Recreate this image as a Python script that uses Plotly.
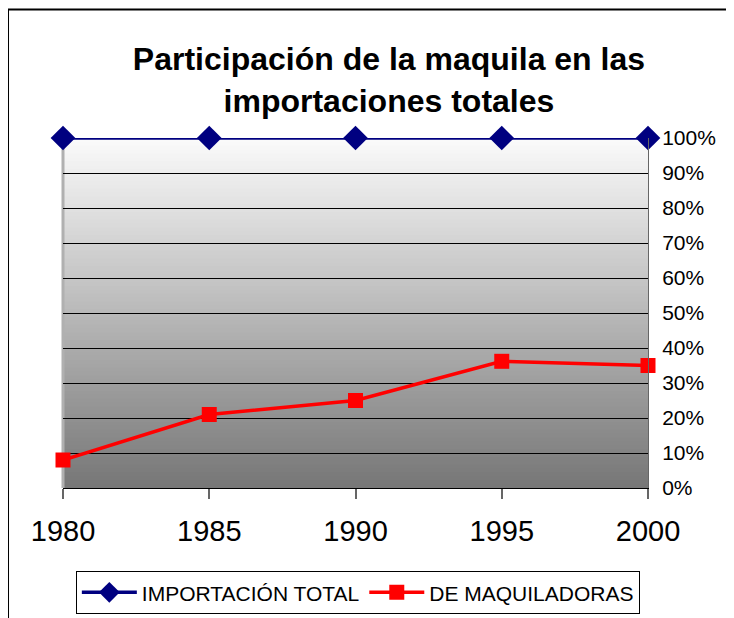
import plotly.graph_objects as go

anios = [1980, 1985, 1990, 1995, 2000]
importacion_total = [1.00, 1.00, 1.00, 1.00, 1.00]
de_maquiladoras = [0.08, 0.21, 0.25, 0.362, 0.35]

FONT = "Liberation Sans, Arial, sans-serif"

fig = go.Figure()
fig.add_trace(go.Scatter(
    x=anios, y=importacion_total, mode="lines+markers", name="IMPORTACIÓN TOTAL",
    line=dict(color="#000080", width=3.5), marker=dict(symbol="diamond", size=19, color="#000080"),
    cliponaxis=False,
))
fig.add_trace(go.Scatter(
    x=anios, y=de_maquiladoras, mode="lines+markers", name="DE MAQUILADORAS",
    line=dict(color="#FF0000", width=3.5), marker=dict(symbol="square", size=15, color="#FF0000"),
    cliponaxis=False,
))

# fondo degradado (blanco arriba, gris abajo); franjas solapadas para evitar costuras
n = 90
for i in range(n):
    t = (i + 0.5) / n
    g = int(round(251 - (251 - 118) * t))
    fig.add_shape(type="rect", xref="x domain", yref="y domain",
                  x0=0, x1=1, y0=max(0, 1 - (i + 1) / n - 0.006), y1=1 - i / n,
                  fillcolor=f"rgb({g},{g},{g})", line=dict(width=0), layer="below")

# borde izquierdo gris del área de trazado
fig.add_shape(type="line", xref="x domain", yref="y domain", x0=0, x1=0, y0=0, y1=1,
              line=dict(color="#b0b0b0", width=3), layer="below")

# marco exterior
fig.add_shape(type="rect", xref="paper", yref="paper", x0=-0.094, x1=1.3, y0=-0.6, y1=1.3675,
              line=dict(color="black", width=2))

fig.update_layout(
    width=734, height=618,
    margin=dict(l=55, r=94, t=130, b=130),
    paper_bgcolor="white", plot_bgcolor="white",
    font=dict(family=FONT, color="black"),
    title=dict(text="<b>Participación de la maquila en las<br>importaciones totales</b>",
               font=dict(size=32, family=FONT), x=0.519, xanchor="center", y=0.899, yanchor="middle"),
    xaxis=dict(range=[1980, 2000], tickvals=anios, showgrid=False, zeroline=False,
               showline=True, linecolor="black", linewidth=1,
               ticks="outside", ticklen=10, tickcolor="#666", tickwidth=2,
               tickfont=dict(size=29, family=FONT), ticklabelstandoff=7),
    yaxis=dict(range=[0, 1.0], side="right", tickformat=".0%", dtick=0.1,
               showgrid=True, gridcolor="black", gridwidth=1, zeroline=False,
               showline=True, linecolor="#666", linewidth=1,
               tickfont=dict(size=21, family=FONT), ticks="", ticklabelstandoff=9),
    showlegend=True,
    legend=dict(orientation="h", x=0.504, xanchor="center", y=-0.299, yanchor="middle",
                bordercolor="black", borderwidth=1, bgcolor="white",
                font=dict(size=21, family=FONT), itemwidth=55),
)

fig.write_html("out.html")
